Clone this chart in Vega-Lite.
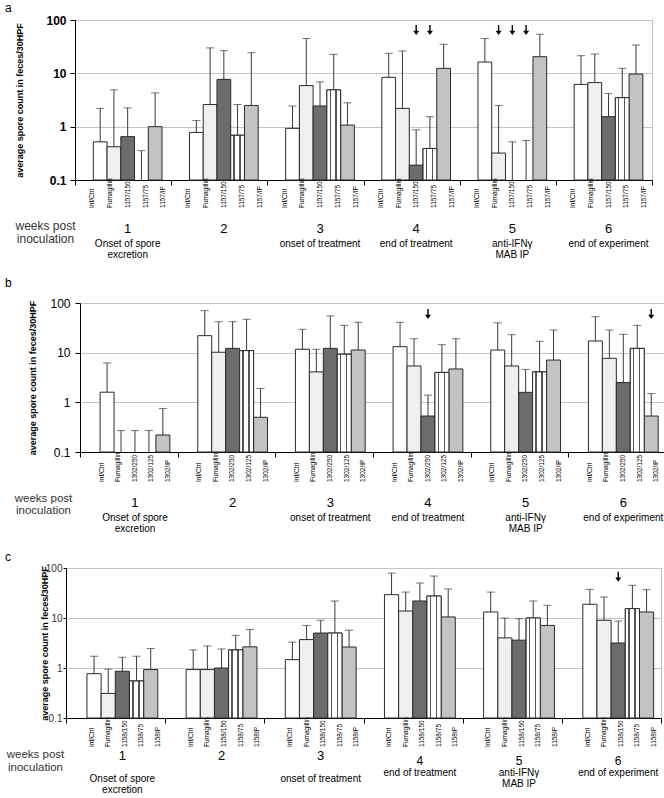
{
 "$schema": "https://vega.github.io/schema/vega-lite/v6.json",
 "padding": {"left": 3, "top": 1, "right": 0, "bottom": 0},
 "background": "white",
 "config": {
  "font": "Liberation Sans",
  "view": {"stroke": "#bdbdbd"},
  "axis": {"domainColor": "#000000", "tickColor": "#000000", "gridColor": "#c4c4c4", "labelColor": "#000000", "titleColor": "#000000", "labelFont": "Liberation Sans", "titleFont": "Liberation Sans"},
  "title": {"font": "Liberation Sans", "fontWeight": "normal", "fontSize": 12, "color": "#000000"},
  "text": {"font": "Liberation Sans", "color": "#000000"}
 },
 "datasets": {
  "a": [
   {"week": 1, "treatment": "Inf/Ctrl", "mean": 0.52, "upper": 2.2},
   {"week": 1, "treatment": "Fumagillin", "mean": 0.42, "upper": 4.9},
   {"week": 1, "treatment": "1157/150", "mean": 0.65, "upper": 2.25},
   {"week": 1, "treatment": "1157/75", "mean": null, "upper": 0.355},
   {"week": 1, "treatment": "1157/IP", "mean": 1.0, "upper": 4.3},
   {"week": 2, "treatment": "Inf/Ctrl", "mean": 0.78, "upper": 1.3},
   {"week": 2, "treatment": "Fumagillin", "mean": 2.6, "upper": 30},
   {"week": 2, "treatment": "1157/150", "mean": 7.7, "upper": 26.6},
   {"week": 2, "treatment": "1157/75", "mean": 0.69, "upper": 2.6},
   {"week": 2, "treatment": "1157/IP", "mean": 2.5, "upper": 24.4},
   {"week": 3, "treatment": "Inf/Ctrl", "mean": 0.93, "upper": 2.44},
   {"week": 3, "treatment": "Fumagillin", "mean": 5.9, "upper": 45},
   {"week": 3, "treatment": "1157/150", "mean": 2.44, "upper": 6.9},
   {"week": 3, "treatment": "1157/75", "mean": 4.9, "upper": 22.7},
   {"week": 3, "treatment": "1157/IP", "mean": 1.07, "upper": 2.8},
   {"week": 4, "treatment": "Inf/Ctrl", "mean": 8.4, "upper": 23.7},
   {"week": 4, "treatment": "Fumagillin", "mean": 2.2, "upper": 26.2},
   {"week": 4, "treatment": "1157/150", "mean": 0.19, "upper": 0.87},
   {"week": 4, "treatment": "1157/75", "mean": 0.39, "upper": 1.54},
   {"week": 4, "treatment": "1157/IP", "mean": 12.4, "upper": 35},
   {"week": 5, "treatment": "Inf/Ctrl", "mean": 16.3, "upper": 45},
   {"week": 5, "treatment": "Fumagillin", "mean": 0.32, "upper": 2.5},
   {"week": 5, "treatment": "1157/150", "mean": null, "upper": 0.52},
   {"week": 5, "treatment": "1157/75", "mean": null, "upper": 0.55},
   {"week": 5, "treatment": "1157/IP", "mean": 20.5, "upper": 54},
   {"week": 6, "treatment": "Inf/Ctrl", "mean": 6.2, "upper": 21.4},
   {"week": 6, "treatment": "Fumagillin", "mean": 6.7, "upper": 23},
   {"week": 6, "treatment": "1157/150", "mean": 1.54, "upper": 4.2},
   {"week": 6, "treatment": "1157/75", "mean": 3.5, "upper": 12.4},
   {"week": 6, "treatment": "1157/IP", "mean": 9.7, "upper": 34}
  ],
  "b": [
   {"week": 1, "treatment": "Inf/Ctrl", "mean": 1.6, "upper": 6.2},
   {"week": 1, "treatment": "Fumagillin", "mean": null, "upper": 0.27},
   {"week": 1, "treatment": "1302/250", "mean": null, "upper": 0.27},
   {"week": 1, "treatment": "1302/125", "mean": null, "upper": 0.27},
   {"week": 1, "treatment": "1302/IP", "mean": 0.22, "upper": 0.75},
   {"week": 2, "treatment": "Inf/Ctrl", "mean": 22, "upper": 70},
   {"week": 2, "treatment": "Fumagillin", "mean": 10.2, "upper": 42},
   {"week": 2, "treatment": "1302/250", "mean": 12.2, "upper": 42},
   {"week": 2, "treatment": "1302/125", "mean": 11, "upper": 47},
   {"week": 2, "treatment": "1302/IP", "mean": 0.5, "upper": 1.9},
   {"week": 3, "treatment": "Inf/Ctrl", "mean": 11.7, "upper": 29.5},
   {"week": 3, "treatment": "Fumagillin", "mean": 4.1, "upper": 11.7},
   {"week": 3, "treatment": "1302/250", "mean": 12.2, "upper": 55},
   {"week": 3, "treatment": "1302/125", "mean": 9.3, "upper": 35.5},
   {"week": 3, "treatment": "1302/IP", "mean": 11.3, "upper": 40.8},
   {"week": 4, "treatment": "Inf/Ctrl", "mean": 13.2, "upper": 40.8},
   {"week": 4, "treatment": "Fumagillin", "mean": 5.4, "upper": 19.1},
   {"week": 4, "treatment": "1302/250", "mean": 0.53, "upper": 1.4},
   {"week": 4, "treatment": "1302/125", "mean": 4.0, "upper": 14.5},
   {"week": 4, "treatment": "1302/IP", "mean": 4.7, "upper": 19.1},
   {"week": 5, "treatment": "Inf/Ctrl", "mean": 11.3, "upper": 40},
   {"week": 5, "treatment": "Fumagillin", "mean": 5.4, "upper": 23},
   {"week": 5, "treatment": "1302/250", "mean": 1.59, "upper": 4.6},
   {"week": 5, "treatment": "1302/125", "mean": 4.1, "upper": 16.9},
   {"week": 5, "treatment": "1302/IP", "mean": 7.1, "upper": 28.6},
   {"week": 6, "treatment": "Inf/Ctrl", "mean": 17.2, "upper": 53},
   {"week": 6, "treatment": "Fumagillin", "mean": 7.7, "upper": 28.6},
   {"week": 6, "treatment": "1302/250", "mean": 2.5, "upper": 23.4},
   {"week": 6, "treatment": "1302/125", "mean": 12.2, "upper": 35.5},
   {"week": 6, "treatment": "1302/IP", "mean": 0.53, "upper": 1.5}
  ],
  "c": [
   {"week": 1, "treatment": "Inf/Ctrl", "mean": 0.77, "upper": 1.72},
   {"week": 1, "treatment": "Fumagillin", "mean": 0.31, "upper": 0.95},
   {"week": 1, "treatment": "1158/150", "mean": 0.86, "upper": 1.64},
   {"week": 1, "treatment": "1158/75", "mean": 0.55, "upper": 1.72},
   {"week": 1, "treatment": "1158IP", "mean": 0.93, "upper": 2.45},
   {"week": 2, "treatment": "Inf/Ctrl", "mean": 0.93, "upper": 2.3},
   {"week": 2, "treatment": "Fumagillin", "mean": 0.93, "upper": 2.77},
   {"week": 2, "treatment": "1158/150", "mean": 1.0, "upper": 2.4},
   {"week": 2, "treatment": "1158/75", "mean": 2.3, "upper": 4.5},
   {"week": 2, "treatment": "1158IP", "mean": 2.65, "upper": 5.9},
   {"week": 3, "treatment": "Inf/Ctrl", "mean": 1.47, "upper": 3.3},
   {"week": 3, "treatment": "Fumagillin", "mean": 3.7, "upper": 7.1},
   {"week": 3, "treatment": "1158/150", "mean": 5.0, "upper": 9.0},
   {"week": 3, "treatment": "1158/75", "mean": 5.0, "upper": 21.9},
   {"week": 3, "treatment": "1158IP", "mean": 2.63, "upper": 5.7},
   {"week": 4, "treatment": "Inf/Ctrl", "mean": 29.3, "upper": 79},
   {"week": 4, "treatment": "Fumagillin", "mean": 13.8, "upper": 33},
   {"week": 4, "treatment": "1158/150", "mean": 21.9, "upper": 50},
   {"week": 4, "treatment": "1158/75", "mean": 27.5, "upper": 69},
   {"week": 4, "treatment": "1158IP", "mean": 10.5, "upper": 38},
   {"week": 5, "treatment": "Inf/Ctrl", "mean": 13.2, "upper": 33},
   {"week": 5, "treatment": "Fumagillin", "mean": 4.0, "upper": 10},
   {"week": 5, "treatment": "1158/150", "mean": 3.6, "upper": 9.7},
   {"week": 5, "treatment": "1158/75", "mean": 10, "upper": 21.9},
   {"week": 5, "treatment": "1158IP", "mean": 7.1, "upper": 17.9},
   {"week": 6, "treatment": "Inf/Ctrl", "mean": 18.8, "upper": 37.4},
   {"week": 6, "treatment": "Fumagillin", "mean": 9.0, "upper": 26.3},
   {"week": 6, "treatment": "1158/150", "mean": 3.16, "upper": 8.7},
   {"week": 6, "treatment": "1158/75", "mean": 15.4, "upper": 45},
   {"week": 6, "treatment": "1158IP", "mean": 13.2, "upper": 36.9}
  ],
  "arrows_a": [
   {"week": 4, "treatment": "1157/150"},
   {"week": 4, "treatment": "1157/75"},
   {"week": 5, "treatment": "Fumagillin"},
   {"week": 5, "treatment": "1157/150"},
   {"week": 5, "treatment": "1157/75"}
  ],
  "arrows_b": [
   {"week": 4, "treatment": "1302/250"},
   {"week": 6, "treatment": "1302/IP"}
  ],
  "arrows_c": [
   {"week": 6, "treatment": "1158/150"}
  ],
  "weeks": [
   {"week": 1, "num": "1", "desc": "Onset of spore\nexcretion"},
   {"week": 2, "num": "2", "desc": ""},
   {"week": 3, "num": "3", "desc": "onset of treatment"},
   {"week": 4, "num": "4", "desc": "end of treatment"},
   {"week": 5, "num": "5", "desc": "anti-IFNγ\nMAB IP"},
   {"week": 6, "num": "6", "desc": "end of experiment"}
  ]
 },
 "concat": [
  {"spacing": 0, "hconcat": [
  {"width": 1, "height": 1, "data": {"values": []}, "mark": {"type": "point", "opacity": 0}, "view": {"stroke": null}},
  {
   "width": 577, "height": 160,
   "title": {"text": "a", "anchor": "start", "frame": "group", "dx": -70, "offset": -1},
   "data": {"name": "a"},
   "layer": [
    {
     "encoding": {
      "x": {"field": "week", "type": "ordinal", "scale": {"paddingInner": 0, "paddingOuter": 0},
            "axis": {"labels": false, "ticks": true, "tickBand": "extent", "tickSize": 5, "grid": false, "title": ["weeks post", "inoculation"], "titleX": -30, "titleY": 40, "titleAlign": "center", "titleBaseline": "top", "titleAngle": 0, "titleFontSize": 12, "titleFontWeight": "normal", "titleColor": "#333333", "titleLineHeight": 13}},
      "xOffset": {"field": "treatment", "type": "nominal", "sort": null, "scale": {"domain": ["Inf/Ctrl", "Fumagillin", "1157/150", "1157/75", "1157/IP"], "paddingInner": 0, "paddingOuter": 1.31, "align": 0.667}}
     },
     "layer": [
      {"mark": {"type": "rule", "color": "#3a3a3a", "strokeWidth": 1},
       "encoding": {"y": {"field": "upper", "type": "quantitative", "scale": {"type": "log", "domain": [0.1, 100], "nice": false},
                          "axis": {"values": [0.1, 1, 10, 100], "format": "~g", "grid": true, "tickSize": 5, "labelFontSize": 12, "labelFontWeight": "bold", "labelPadding": 4, "title": "average spore count in feces/30HPF", "titleFontSize": 9, "titleFontWeight": "bold", "titleAngle": 270, "titleBaseline": "bottom", "titleAlign": "center", "titleX": -51}},
                    "y2": {"datum": 0.1}}},
      {"mark": {"type": "tick", "color": "#3a3a3a", "size": 8, "thickness": 1},
       "encoding": {"y": {"field": "upper", "type": "quantitative"}}},
      {"mark": {"type": "bar", "stroke": "#2a2a2a", "strokeWidth": 1},
       "encoding": {"y": {"field": "mean", "type": "quantitative"}, "y2": {"datum": 0.1},
                    "fill": {"field": "treatment", "type": "nominal", "sort": null, "scale": {"domain": ["Inf/Ctrl", "Fumagillin", "1157/150", "1157/75", "1157/IP"], "range": ["#ffffff", "#efefef", "#6c6c6c", "#ffffff", "#c3c3c3"]}, "legend": null}}},
      {"transform": [{"filter": "datum.treatment === '1157/75'"}],
       "mark": {"type": "bar", "stroke": "#2a2a2a", "strokeWidth": 1,
                "fill": {"gradient": "linear", "x1": 0, "x2": 1, "y1": 0, "y2": 0, "stops": [{"offset": 0, "color": "#ffffff"}, {"offset": 0.2, "color": "#ffffff"}, {"offset": 0.2, "color": "#555555"}, {"offset": 0.3, "color": "#555555"}, {"offset": 0.3, "color": "#ffffff"}, {"offset": 0.62, "color": "#ffffff"}, {"offset": 0.62, "color": "#555555"}, {"offset": 0.72, "color": "#555555"}, {"offset": 0.72, "color": "#ffffff"}, {"offset": 1, "color": "#ffffff"}]}},
       "encoding": {"y": {"field": "mean", "type": "quantitative"}, "y2": {"datum": 0.1}}},
      {"data": {"name": "arrows_a"},
       "mark": {"type": "point", "shape": "M-0.14,-1L0.14,-1L0.14,0.15L0.6,0.15L0,1L-0.6,0.15L-0.14,0.15Z", "filled": true, "color": "#000000", "opacity": 1, "size": 100},
       "encoding": {"y": {"datum": 65, "type": "quantitative"}}},
      {"data": {"name": "weeks"},
       "mark": {"type": "text", "fontSize": 13, "dy": 49, "baseline": "middle", "align": "center"},
       "encoding": {"xOffset": {"datum": "1157/150"}, "y": {"datum": 0.1, "type": "quantitative"}, "text": {"field": "num", "type": "nominal"}}},
      {"data": {"name": "weeks"},
       "mark": {"type": "text", "fontSize": 10, "dy": 58.7, "baseline": "top", "align": "center", "lineBreak": "\n", "lineHeight": 11},
       "encoding": {"xOffset": {"datum": "1157/150"}, "y": {"datum": 0.1, "type": "quantitative"}, "text": {"field": "desc", "type": "nominal"}}}
     ]
    },
    {
     "mark": {"type": "text", "angle": 270, "align": "left", "baseline": "middle", "dx": -28, "fontSize": 6.5},
     "encoding": {
      "x": {"field": "week", "type": "ordinal"},
      "xOffset": {"field": "treatment", "type": "nominal", "sort": null, "scale": {"domain": ["Inf/Ctrl", "Fumagillin", "1157/150", "1157/75", "1157/IP"], "paddingInner": 0, "paddingOuter": 0.7, "align": 0.69}},
      "y": {"datum": 0.1, "type": "quantitative"},
      "text": {"field": "treatment", "type": "nominal"}
     }
    }
   ],
   "resolve": {"scale": {"xOffset": "independent"}}
  }]},
  {"spacing": 0, "hconcat": [
  {"width": 1, "height": 1, "data": {"values": []}, "mark": {"type": "point", "opacity": 0}, "view": {"stroke": null}},
  {
   "width": 586, "height": 149,
   "title": {"text": "b", "anchor": "start", "frame": "group", "dx": -75, "offset": 7},
   "data": {"name": "b"},
   "layer": [
    {
     "encoding": {
      "x": {"field": "week", "type": "ordinal", "scale": {"paddingInner": 0, "paddingOuter": 0},
            "axis": {"labels": false, "ticks": true, "tickBand": "extent", "tickSize": 5, "grid": false, "title": ["weeks post", "inoculation"], "titleX": -37, "titleY": 40, "titleAlign": "center", "titleBaseline": "top", "titleAngle": 0, "titleFontSize": 11.5, "titleFontWeight": "normal", "titleColor": "#333333", "titleLineHeight": 12.5}},
      "xOffset": {"field": "treatment", "type": "nominal", "sort": null, "scale": {"domain": ["Inf/Ctrl", "Fumagillin", "1302/250", "1302/125", "1302/IP"], "paddingInner": 0, "paddingOuter": 1.23, "align": 0.72}}
     },
     "layer": [
      {"mark": {"type": "rule", "color": "#3a3a3a", "strokeWidth": 1},
       "encoding": {"y": {"field": "upper", "type": "quantitative", "scale": {"type": "log", "domain": [0.1, 100], "nice": false},
                          "axis": {"values": [0.1, 1, 10, 100], "format": "~g", "grid": true, "tickSize": 5, "labelFontSize": 12, "labelFontWeight": "normal", "labelPadding": 5, "title": "average spore count in feces/30HPF", "titleFontSize": 9, "titleFontWeight": "bold", "titleAngle": 270, "titleBaseline": "bottom", "titleAlign": "center", "titleX": -43}},
                    "y2": {"datum": 0.1}}},
      {"mark": {"type": "tick", "color": "#3a3a3a", "size": 8, "thickness": 1},
       "encoding": {"y": {"field": "upper", "type": "quantitative"}}},
      {"mark": {"type": "bar", "stroke": "#2a2a2a", "strokeWidth": 1},
       "encoding": {"y": {"field": "mean", "type": "quantitative"}, "y2": {"datum": 0.1},
                    "fill": {"field": "treatment", "type": "nominal", "sort": null, "scale": {"domain": ["Inf/Ctrl", "Fumagillin", "1302/250", "1302/125", "1302/IP"], "range": ["#ffffff", "#efefef", "#6c6c6c", "#ffffff", "#c3c3c3"]}, "legend": null}}},
      {"transform": [{"filter": "datum.treatment === '1302/125'"}],
       "mark": {"type": "bar", "stroke": "#2a2a2a", "strokeWidth": 1,
                "fill": {"gradient": "linear", "x1": 0, "x2": 1, "y1": 0, "y2": 0, "stops": [{"offset": 0, "color": "#ffffff"}, {"offset": 0.2, "color": "#ffffff"}, {"offset": 0.2, "color": "#555555"}, {"offset": 0.3, "color": "#555555"}, {"offset": 0.3, "color": "#ffffff"}, {"offset": 0.62, "color": "#ffffff"}, {"offset": 0.62, "color": "#555555"}, {"offset": 0.72, "color": "#555555"}, {"offset": 0.72, "color": "#ffffff"}, {"offset": 1, "color": "#ffffff"}]}},
       "encoding": {"y": {"field": "mean", "type": "quantitative"}, "y2": {"datum": 0.1}}},
      {"data": {"name": "arrows_b"},
       "mark": {"type": "point", "shape": "M-0.14,-1L0.14,-1L0.14,0.15L0.6,0.15L0,1L-0.6,0.15L-0.14,0.15Z", "filled": true, "color": "#000000", "opacity": 1, "size": 100},
       "encoding": {"y": {"datum": 60, "type": "quantitative"}}},
      {"data": {"name": "weeks"},
       "mark": {"type": "text", "fontSize": 13, "dy": 51, "baseline": "middle", "align": "center"},
       "encoding": {"xOffset": {"datum": "1302/250"}, "y": {"datum": 0.1, "type": "quantitative"}, "text": {"field": "num", "type": "nominal"}}},
      {"data": {"name": "weeks"},
       "mark": {"type": "text", "fontSize": 10, "dy": 60.7, "baseline": "top", "align": "center", "lineBreak": "\n", "lineHeight": 11},
       "encoding": {"xOffset": {"datum": "1302/250"}, "y": {"datum": 0.1, "type": "quantitative"}, "text": {"field": "desc", "type": "nominal"}}}
     ]
    },
    {
     "mark": {"type": "text", "angle": 270, "align": "left", "baseline": "middle", "dx": -30, "fontSize": 6.5},
     "encoding": {
      "x": {"field": "week", "type": "ordinal"},
      "xOffset": {"field": "treatment", "type": "nominal", "sort": null, "scale": {"domain": ["Inf/Ctrl", "Fumagillin", "1302/250", "1302/125", "1302/IP"], "paddingInner": 0, "paddingOuter": 0.94, "align": 0.69}},
      "y": {"datum": 0.1, "type": "quantitative"},
      "text": {"field": "treatment", "type": "nominal"}
     }
    }
   ],
   "resolve": {"scale": {"xOffset": "independent"}}
  }]},
  {"spacing": 0, "hconcat": [
  {"width": 1, "height": 1, "data": {"values": []}, "mark": {"type": "point", "opacity": 0}, "view": {"stroke": null}},
  {
   "width": 595, "height": 150,
   "title": {"text": "c", "anchor": "start", "frame": "group", "dx": -61, "offset": -0.5},
   "data": {"name": "c"},
   "layer": [
    {
     "encoding": {
      "x": {"field": "week", "type": "ordinal", "scale": {"paddingInner": 0, "paddingOuter": 0},
            "axis": {"labels": false, "ticks": true, "tickBand": "extent", "tickSize": 5, "grid": false, "title": ["weeks post", "inoculation"], "titleX": -31, "titleY": 30.5, "titleAlign": "center", "titleBaseline": "top", "titleAngle": 0, "titleFontSize": 11.5, "titleFontWeight": "normal", "titleColor": "#333333", "titleLineHeight": 13}},
      "xOffset": {"field": "treatment", "type": "nominal", "sort": null, "scale": {"domain": ["Inf/Ctrl", "Fumagillin", "1158/150", "1158/75", "1158IP"], "paddingInner": 0, "paddingOuter": 1.23, "align": 0.74}}
     },
     "layer": [
      {"mark": {"type": "rule", "color": "#3a3a3a", "strokeWidth": 1},
       "encoding": {"y": {"field": "upper", "type": "quantitative", "scale": {"type": "log", "domain": [0.1, 100], "nice": false},
                          "axis": {"values": [0.1, 1, 10, 100], "format": "~g", "grid": true, "tickSize": 3, "labelFontSize": 10, "labelFontWeight": "normal", "labelColor": "#333333", "labelPadding": 1, "title": "average spore count in feces/30HPF", "titleFontSize": 9, "titleFontWeight": "bold", "titleAngle": 270, "titleBaseline": "bottom", "titleAlign": "center", "titleX": -17}},
                    "y2": {"datum": 0.1}}},
      {"mark": {"type": "tick", "color": "#3a3a3a", "size": 8, "thickness": 1},
       "encoding": {"y": {"field": "upper", "type": "quantitative"}}},
      {"mark": {"type": "bar", "stroke": "#2a2a2a", "strokeWidth": 1},
       "encoding": {"y": {"field": "mean", "type": "quantitative"}, "y2": {"datum": 0.1},
                    "fill": {"field": "treatment", "type": "nominal", "sort": null, "scale": {"domain": ["Inf/Ctrl", "Fumagillin", "1158/150", "1158/75", "1158IP"], "range": ["#ffffff", "#efefef", "#6c6c6c", "#ffffff", "#c3c3c3"]}, "legend": null}}},
      {"transform": [{"filter": "datum.treatment === '1158/75'"}],
       "mark": {"type": "bar", "stroke": "#2a2a2a", "strokeWidth": 1,
                "fill": {"gradient": "linear", "x1": 0, "x2": 1, "y1": 0, "y2": 0, "stops": [{"offset": 0, "color": "#ffffff"}, {"offset": 0.2, "color": "#ffffff"}, {"offset": 0.2, "color": "#555555"}, {"offset": 0.3, "color": "#555555"}, {"offset": 0.3, "color": "#ffffff"}, {"offset": 0.62, "color": "#ffffff"}, {"offset": 0.62, "color": "#555555"}, {"offset": 0.72, "color": "#555555"}, {"offset": 0.72, "color": "#ffffff"}, {"offset": 1, "color": "#ffffff"}]}},
       "encoding": {"y": {"field": "mean", "type": "quantitative"}, "y2": {"datum": 0.1}}},
      {"data": {"name": "arrows_c"},
       "mark": {"type": "point", "shape": "M-0.14,-1L0.14,-1L0.14,0.15L0.6,0.15L0,1L-0.6,0.15L-0.14,0.15Z", "filled": true, "color": "#000000", "opacity": 1, "size": 100},
       "encoding": {"y": {"datum": 67, "type": "quantitative"}}},
      {"data": {"name": "weeks"},
       "transform": [{"filter": "datum.week <= 3"}],
       "mark": {"type": "text", "fontSize": 13, "dy": 38, "baseline": "middle", "align": "center"},
       "encoding": {"xOffset": {"datum": "1158/150"}, "y": {"datum": 0.1, "type": "quantitative"}, "text": {"field": "num", "type": "nominal"}}},
      {"data": {"name": "weeks"},
       "transform": [{"filter": "datum.week > 3"}],
       "mark": {"type": "text", "fontSize": 12, "dy": 43, "baseline": "middle", "align": "center"},
       "encoding": {"xOffset": {"datum": "1158/150"}, "y": {"datum": 0.1, "type": "quantitative"}, "text": {"field": "num", "type": "nominal"}}},
      {"data": {"name": "weeks"},
       "transform": [{"filter": "datum.week <= 3"}],
       "mark": {"type": "text", "fontSize": 10, "dy": 55.7, "baseline": "top", "align": "center", "lineBreak": "\n", "lineHeight": 11},
       "encoding": {"xOffset": {"datum": "1158/150"}, "y": {"datum": 0.1, "type": "quantitative"}, "text": {"field": "desc", "type": "nominal"}}},
      {"data": {"name": "weeks"},
       "transform": [{"filter": "datum.week > 3"}],
       "mark": {"type": "text", "fontSize": 10, "dy": 49.5, "baseline": "top", "align": "center", "lineBreak": "\n", "lineHeight": 11},
       "encoding": {"xOffset": {"datum": "1158/150"}, "y": {"datum": 0.1, "type": "quantitative"}, "text": {"field": "desc", "type": "nominal"}}}
     ]
    },
    {
     "mark": {"type": "text", "angle": 270, "align": "left", "baseline": "middle", "dx": -29, "fontSize": 6.5},
     "encoding": {
      "x": {"field": "week", "type": "ordinal"},
      "xOffset": {"field": "treatment", "type": "nominal", "sort": null, "scale": {"domain": ["Inf/Ctrl", "Fumagillin", "1158/150", "1158/75", "1158IP"], "paddingInner": 0, "paddingOuter": 1.06, "align": 0.78}},
      "y": {"datum": 0.1, "type": "quantitative"},
      "text": {"field": "treatment", "type": "nominal"}
     }
    }
   ],
   "resolve": {"scale": {"xOffset": "independent"}}
  }]}
 ],
 "columns": 1,
 "align": "none",
 "bounds": "full",
 "spacing": 15,
 "resolve": {"scale": {"x": "independent", "y": "independent", "xOffset": "independent", "fill": "independent"}}
}
